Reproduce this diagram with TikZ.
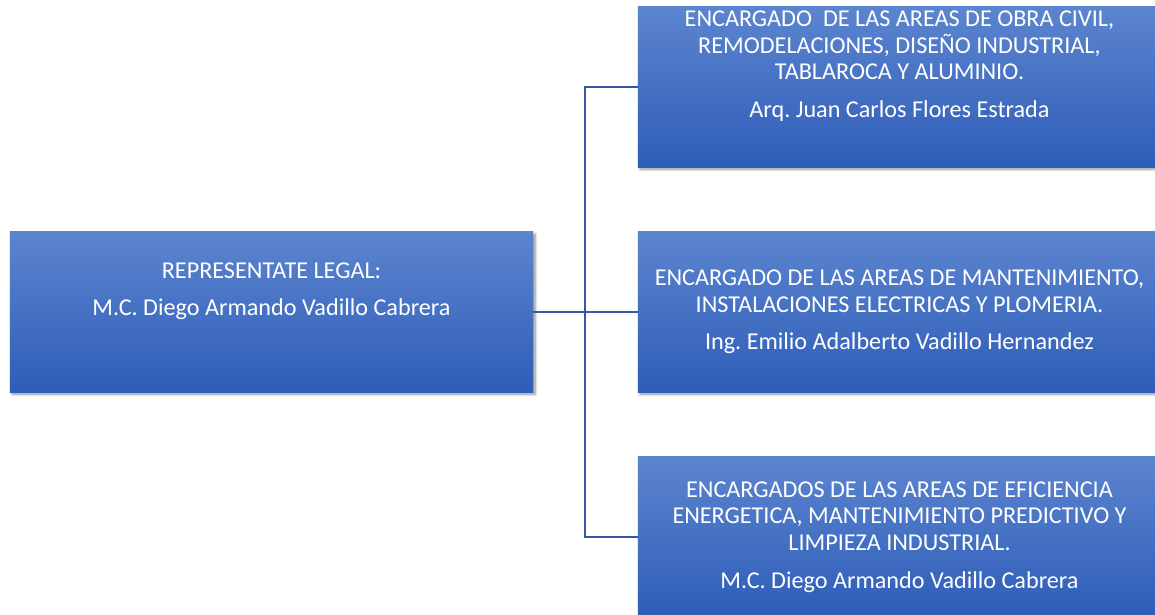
\documentclass[tikz,border=0pt]{standalone}
\usepackage{fontspec}
\setmainfont{Carlito}
\frenchspacing
\usetikzlibrary{shadows.blur}
\definecolor{boxtop}{RGB}{92,133,207}
\definecolor{boxbot}{RGB}{46,93,184}
\definecolor{linkblue}{RGB}{52,88,162}

\begin{document}
\begin{tikzpicture}[x=0.025cm, y=-0.025cm,
  orgbox/.style={rectangle, top color=boxtop, bottom color=boxbot,
    minimum width=13.075cm, minimum height=4cm, inner sep=0pt,
    align=center, text=white, font=\fontsize{17.2}{18.8}\selectfont,
    blur shadow={shadow xshift=1.5pt, shadow yshift=-1.5pt, shadow blur steps=6, shadow opacity=45}},
  link/.style={draw=linkblue, line width=1.5pt}]
  \useasboundingbox (0, 0) rectangle (1155, 615);

  \node[orgbox] (legal) at (271.5, 312) {REPRESENTATE LEGAL:\\[8pt]
    M.C. Diego Armando Vadillo Cabrera\\[8pt]\strut};
  \node[orgbox] (civil) at (899.5, 87) {ENCARGADO~ DE LAS AREAS DE OBRA CIVIL,\\
    REMODELACIONES, DISEÑO INDUSTRIAL,\\ TABLAROCA Y ALUMINIO.\\[8pt]
    Arq. Juan Carlos Flores Estrada\\[8pt]\strut};
  \node[orgbox] (mant) at (899.5, 312) {ENCARGADO DE LAS AREAS DE MANTENIMIENTO,\\
    INSTALACIONES ELECTRICAS Y PLOMERIA.\\[8pt]
    Ing. Emilio Adalberto Vadillo Hernandez};
  \node[orgbox] (efic) at (899.5, 537) {ENCARGADOS DE LAS AREAS DE EFICIENCIA\\
    ENERGETICA, MANTENIMIENTO PREDICTIVO Y\\ LIMPIEZA INDUSTRIAL.\\[8pt]
    M.C. Diego Armando Vadillo Cabrera};

  \coordinate (hub) at (585, 312);

  \draw[link] (legal.east) -- (hub);
  \draw[link] (hub) |- (civil.west);
  \draw[link] (hub) -- (mant.west);
  \draw[link] (hub) |- (efic.west);
\end{tikzpicture}
\end{document}
